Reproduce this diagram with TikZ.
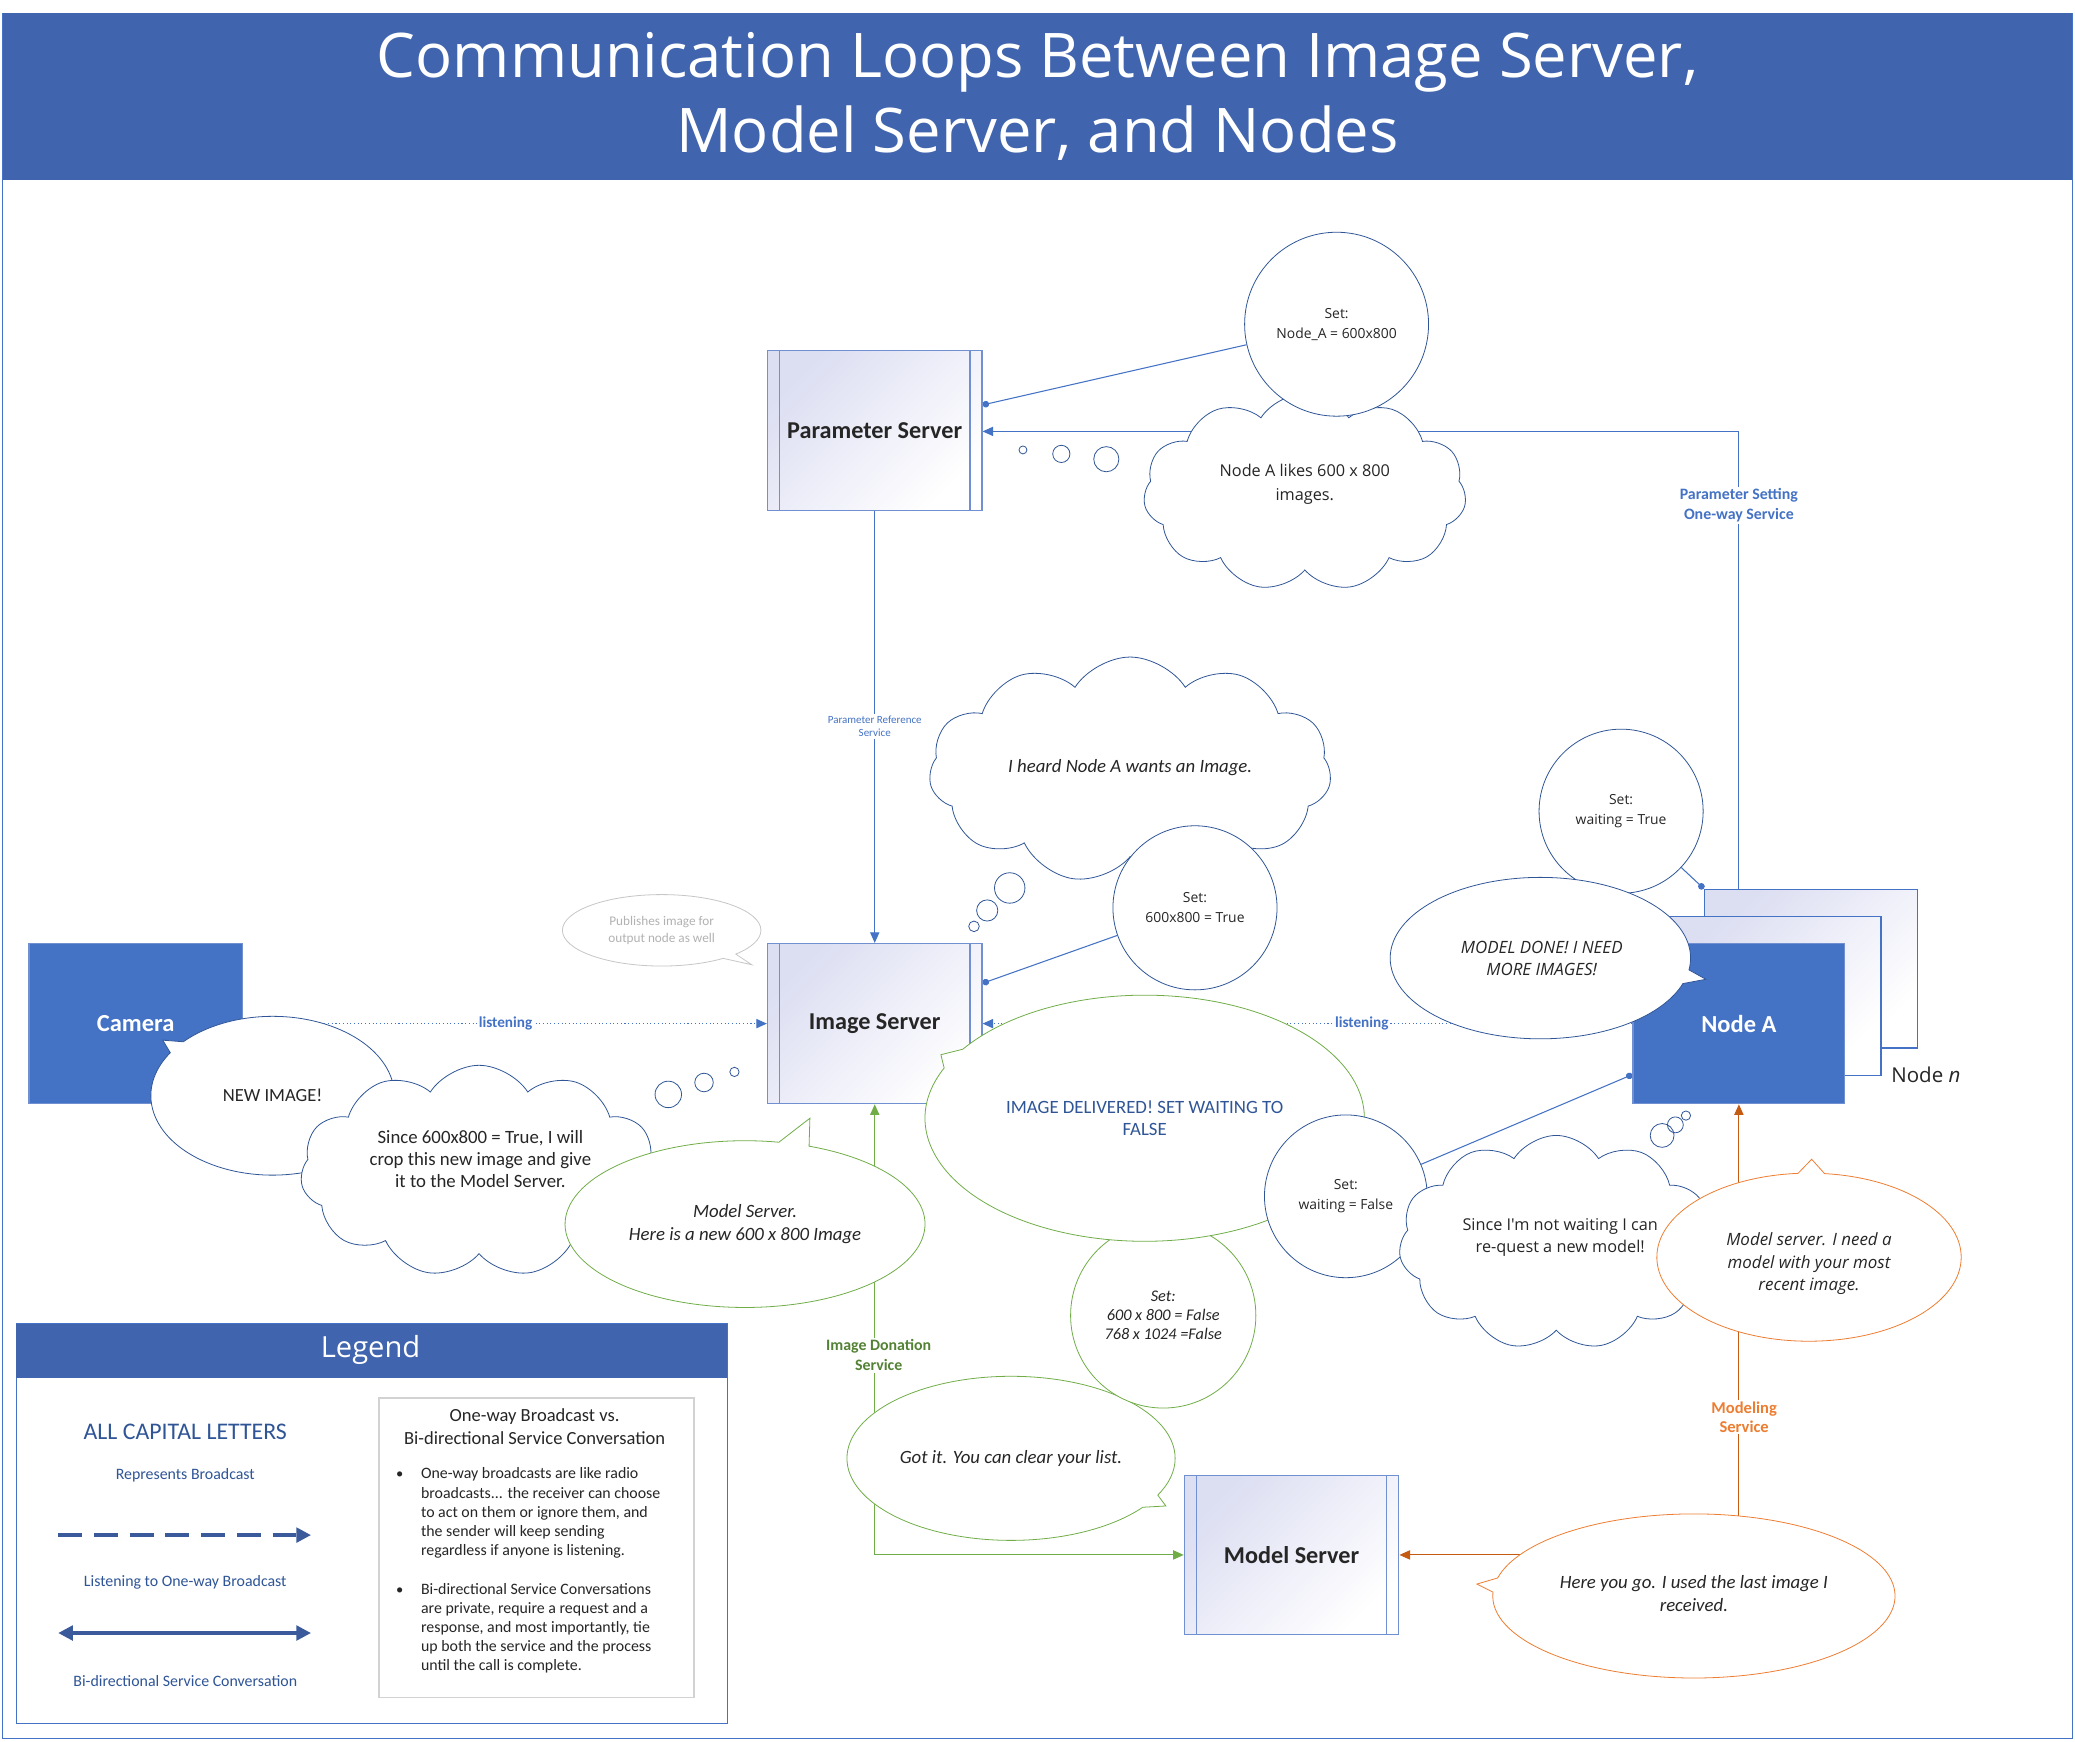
\documentclass[tikz,border=0pt]{standalone}
\usepackage{fontspec}
\setmainfont{Carlito}
\newfontfamily\seg{Open Sans}
\usetikzlibrary{shapes.symbols,shapes.callouts,arrows.meta,calc}
\definecolor{band}{HTML}{4064AD}
\definecolor{nblue}{HTML}{4472C4}
\definecolor{dblue}{HTML}{2F5597}
\definecolor{lblue}{HTML}{7090D2}
\definecolor{lav}{HTML}{DCDEF2}
\definecolor{ggreen}{HTML}{70AD47}
\definecolor{dgreen}{HTML}{548235}
\definecolor{oline}{HTML}{ED7D31}
\definecolor{darr}{HTML}{C55A11}
\definecolor{txt}{HTML}{262626}
\definecolor{legline}{HTML}{3A5A9C}
\newcommand{\fsz}[2]{\fontsize{#1}{#2}\selectfont}
\pgfdeclarelayer{back}
\pgfdeclarelayer{conn}
\pgfsetlayers{back,conn,main}
\tikzset{
  procbox/.style={draw=lblue, line width=1pt, top color=lav, bottom color=white, shading angle=45,
    minimum width=162pt, minimum height=121pt, inner sep=0pt, font=\bfseries\fsz{18.3}{21}, text=txt,
    path picture={\draw[lblue, line width=0.8pt]
      ([xshift=9pt]path picture bounding box.north west) -- ([xshift=9pt]path picture bounding box.south west)
      ([xshift=-9pt]path picture bounding box.north east) -- ([xshift=-9pt]path picture bounding box.south east);}},
  solidbox/.style={fill=nblue, draw=lblue, line width=1pt, minimum width=161pt, minimum height=121pt,
    inner sep=0pt, text=white, font=\bfseries\fsz{18.5}{21}},
  stackbox/.style={draw=nblue, line width=1pt, top color=lav, bottom color=white, shading angle=45,
    minimum width=161pt, minimum height=120pt, inner sep=0pt},
  cloudy/.style={cloud, cloud puffs=11, cloud puff arc=115, cloud ignores aspect, draw=dblue,
    line width=0.6pt, fill=white, inner sep=0pt},
  setcirc/.style={circle, draw=dblue, line width=0.6pt, fill=white, inner sep=0pt, align=center,
    text=txt, font=\seg\fsz{10.5}{15}},
  bubble/.style={ellipse callout, draw=dblue, line width=0.6pt, fill=white, inner sep=0pt, callout pointer arc=10},
  thought/.style={draw=dblue, line width=0.6pt, fill=white},
  tx/.style={align=center, inner sep=0pt, text=txt},
  lbl/.style={fill=white, inner sep=1.5pt, align=center},
  bline/.style={draw=nblue, line width=0.8pt},
  tip/.style={-{Triangle[length=8pt,width=7pt]}},
  dot/.style={{Circle[length=5pt]}-}
}
\begin{document}
\begin{tikzpicture}[x=1pt,y=-1pt]
\useasboundingbox (0,0) rectangle (1568,1316);
\begin{pgfonlayer}{back}
\fill[white] (0,0) rectangle (1568,1316);
\draw[nblue, line width=0.8pt] (2,10) rectangle (1566,1314);
\fill[band] (2,10) rectangle (1566,136);
\end{pgfonlayer}
\node[font=\seg\fsz{46.5}{57}, text=white, align=center] (title) at (784,73)
  {Communication Loops Between Image Server,\\Model Server, and Nodes};

% main boxes
\node[procbox] (ps) at (661,325.5) {Parameter Server};
\node[procbox] (is) at (661,773.5) {Image Server};
\node[procbox, minimum height=120pt] (ms) at (976,1175) {Model Server};
\node[solidbox] (cam) at (102.5,773.5) {Camera};
\node[stackbox] (nb3) at (1368.5,732) {};
\node[stackbox] (nb2) at (1341,752.5) {};
\node[solidbox, minimum width=160pt] (na) at (1314,773.5) {Node A};
\node[font=\seg\fsz{15.5}{18}, text=txt, anchor=west, inner sep=0pt] (nn) at (1429,812) {Node \textit{n}};

% parameter server thoughts
\node[cloudy, minimum width=244pt, minimum height=149pt] (c1) at (986,372) {};
\node[tx, font=\seg\fsz{12.3}{18}] (c1t) at (986,366) {Node A likes 600 x 800\\images.};
\node[setcirc, minimum size=139pt] (sA) at (1010,245) {Set:\\Node\_A = 600x800};
\draw[thought] (773,340) circle[radius=3pt] (802,343) circle[radius=6.5pt] (836,347) circle[radius=9.5pt];

% image server thoughts
\node[cloudy, minimum width=304pt, minimum height=171pt] (c2) at (854,582) {};
\node[tx, font=\itshape\fsz{14.2}{17}] (c2t) at (854,580) {I heard Node A wants an Image.};
\node[setcirc, minimum size=124pt] (s600) at (903,686) {Set:\\600x800 = True};
\draw[thought] (736,700) circle[radius=4pt] (746,688) circle[radius=8pt] (763,671) circle[radius=11.5pt];

\node[bubble, draw=gray!45, minimum width=150pt, minimum height=54pt, callout absolute pointer={(568,729)}] (pub) at (500,703) {};
\node[tx, text=gray!60, font=\fsz{10}{12.5}] (pubt) at (500,703) {Publishes image for\\output node as well};

% camera side
\node[bubble, minimum width=184pt, minimum height=120pt, callout absolute pointer={(123,786)}] (newimg) at (206,828) {};
\node[tx, font=\fsz{14}{16}] (newimgt) at (206,828) {NEW IMAGE!};
\node[cloudy, minimum width=270pt, minimum height=160pt] (c3) at (362,885) {};
\node[tx, font=\fsz{14.2}{16.5}] (c3t) at (363,876) {Since 600x800 = True, I will\\crop this new image and give\\it to the Model Server.};
\draw[thought] (505,827) circle[radius=10pt] (532,818) circle[radius=7pt] (555,810) circle[radius=3.5pt];
\node[bubble, draw=ggreen, minimum width=272pt, minimum height=126pt, callout absolute pointer={(612,845)}] (gms) at (563,925) {};
\node[tx, font=\itshape\fsz{14.2}{17}] (gmst) at (563,925) {Model Server.\\Here is a new 600 x 800 Image};

% green conversation
\node[bubble, draw=ggreen, minimum width=248pt, minimum height=124pt, callout absolute pointer={(881,1138)}] (got) at (764,1102) {};
\node[tx, font=\itshape\fsz{14.2}{16}] (gott) at (764,1102) {Got it. You can clear your list.};
\node[setcirc, draw=ggreen, minimum size=140pt, font=\itshape\fsz{12.3}{14.5}] (sF) at (879,994) {Set:\\600 x 800 = False\\768 x 1024 =False};
\node[bubble, draw=ggreen, minimum width=332pt, minimum height=186pt, callout absolute pointer={(711,797)}] (deliv) at (865,845) {};
\node[tx, text=dblue, font=\fsz{14.2}{17}] (delivt) at (865,845) {IMAGE DELIVERED! SET WAITING TO\\FALSE};
\node[setcirc, minimum size=123pt] (sW) at (1017,904) {Set:\\waiting = False};

% node A side
\node[setcirc, minimum size=124pt] (sT) at (1225,613) {Set:\\waiting = True};
\node[bubble, minimum width=227pt, minimum height=122pt, callout absolute pointer={(1289,740)}] (done) at (1164,724) {};
\node[tx, font=\seg\itshape\fsz{12.8}{16.5}] (donet) at (1165,724) {MODEL DONE! I NEED\\MORE IMAGES!};
\node[cloudy, minimum width=238pt, minimum height=162pt] (c4) at (1176,939) {};
\node[tx, font=\seg\fsz{12.3}{17}] (c4t) at (1179,935) {Since I'm not waiting I can\\re-quest a new model!};
\draw[thought] (1256,858) circle[radius=9pt] (1266,850) circle[radius=6pt] (1274,843) circle[radius=3.5pt];
\node[bubble, draw=oline, minimum width=230pt, minimum height=127pt, callout absolute pointer={(1369,876)}] (need) at (1367,950) {};
\node[tx, font=\seg\itshape\fsz{12.8}{17}] (needt) at (1367,955) {Model server. I need a\\model with your most\\recent image.};
\node[bubble, draw=oline, minimum width=304pt, minimum height=124pt, callout absolute pointer={(1116,1197)}] (here) at (1280,1206) {};
\node[tx, font=\itshape\fsz{14.2}{17}] (heret) at (1280,1204) {Here you go. I used the last image I\\received.};

% connectors
\begin{pgfonlayer}{conn}
\draw[bline, tip] (na.center |- nb3.north) -- (na.center |- 0,326) -- (ps.east |- 0,326);
\node[lbl, text=nblue, font=\bfseries\fsz{12}{15}] (pset) at (1314,382) {Parameter Setting\\One-way Service};
\draw[bline, tip] (ps.south) -- (is.north);
\node[lbl, text=nblue, font=\fsz{8.3}{9.5}] (pref) at (661,549) {Parameter Reference\\Service};
\draw[bline, dot] (ps.east |- 0,306) -- (sA);
\draw[bline, dot] (is.east |- 0,743) -- (s600);
\draw[bline, dot] (na.west |- 0,812) -- (sW);
\draw[bline, dot] (nb3.north west) -- (sT);
\draw[bline, dotted, tip] (cam.east) -- (is.west);
\node[lbl, text=nblue, font=\bfseries\fsz{11.5}{13}] (lis1) at (382,773) {listening};
\draw[bline, dotted, tip] (na.west) -- (is.east);
\node[lbl, text=nblue, font=\bfseries\fsz{11.5}{13}] (lis2) at (1029,773) {listening};
\draw[draw=ggreen, line width=0.8pt, {Triangle[length=8pt,width=7pt]}-{Triangle[length=8pt,width=7pt]}]
  (is.south) -- (is.south |- ms.west) -- (ms.west);
\node[lbl, text=dgreen, font=\bfseries\fsz{12}{15}] (idon) at (664,1024) {Image Donation\\Service};
\draw[draw=darr, line width=0.8pt, {Triangle[length=8pt,width=7pt]}-{Triangle[length=8pt,width=7pt]}]
  (na.south) -- (na.south |- ms.east) -- (ms.east);
\node[lbl, text=oline, font=\bfseries\fsz{12.5}{14}] (mod) at (1318,1071) {Modeling\\Service};
\end{pgfonlayer}

% legend
\node[draw=nblue, line width=1pt, fill=white, minimum width=537pt, minimum height=302pt, anchor=north west, inner sep=0pt] (leg) at (12,1000) {};
\node[fill=band, minimum width=537pt, minimum height=41pt, anchor=north west, inner sep=0pt] (legh) at (12,1000) {};
\node[text=white, font=\seg\fsz{22}{26}] (legt) at (280,1020) {Legend};
\node[text=dblue, font=\fsz{18}{20}] (lcap) at (140,1082) {ALL CAPITAL LETTERS};
\node[text=dblue, font=\fsz{12}{13}] (lrep) at (140,1115) {Represents Broadcast};
\coordinate (d1) at (44,1160);
\coordinate (d2) at (235,1160);
\draw[legline, line width=2.5pt, dash pattern=on 18pt off 9pt, -{Triangle[length=11pt,width=11pt]}] (d1) -- (d2);
\node[text=dblue, font=\fsz{12}{13}] (llis) at (140,1196) {Listening to One-way Broadcast};
\coordinate (e1) at (44,1234);
\coordinate (e2) at (235,1234);
\draw[legline, line width=2.5pt, {Triangle[length=11pt,width=11pt]}-{Triangle[length=11pt,width=11pt]}] (e1) -- (e2);
\node[text=dblue, font=\fsz{12}{13}] (lbi) at (140,1270) {Bi-directional Service Conversation};
\node[draw=gray!35, line width=1pt, minimum width=238pt, minimum height=226pt, anchor=north west, inner sep=0pt] (lbox) at (286,1056) {};
\node[tx, font=\fsz{14}{17}] (lboxt) at (404,1078) {One-way Broadcast vs.\\Bi-directional Service Conversation};
\node[tx, anchor=north west, align=left, font=\fsz{12}{14.5}] (bul1) at (318,1109)
  {One-way broadcasts are like radio\\broadcasts... the receiver can choose\\to act on them or ignore them, and\\the sender will keep sending\\regardless if anyone is listening.};
\node[tx, anchor=north west, align=left, font=\fsz{12}{14.5}] (bul2) at (318,1196)
  {Bi-directional Service Conversations\\are private, require a request and a\\response, and most importantly, tie\\up both the service and the process\\until the call is complete.};
\node[tx, font=\fsz{11}{13}] (bd1) at (302,1115) {\textbullet};
\node[tx, font=\fsz{11}{13}] (bd2) at (302,1202) {\textbullet};
\end{tikzpicture}
\end{document}
